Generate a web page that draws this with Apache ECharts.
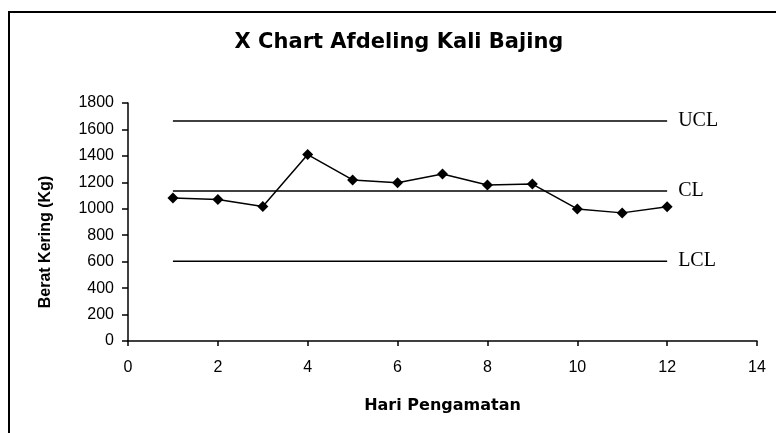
<!DOCTYPE html>
<html>
<head>
<meta charset="utf-8">
<script src="https://cdn.jsdelivr.net/npm/echarts@6/dist/echarts.min.js"></script>
<style>
  html, body { margin: 0; padding: 0; background: #fff; }
  #chart { width: 776px; height: 433px; }
</style>
</head>
<body>
<div id="chart"></div>
<script>
// Daily dry weight observations (Kg) for the X control chart
const days = [1, 2, 3, 4, 5, 6, 7, 8, 9, 10, 11, 12];
const weights = [1082, 1070, 1017, 1410, 1218, 1197, 1263, 1180, 1187, 999, 969, 1015];

// Control limits
const limitNames = ['UCL', 'CL', 'LCL'];
const limitValues = [1664, 1134, 604];

// Axis ranges and tick steps
const xMin = 0, xMax = 14, xStep = 2;
const yMin = 0, yMax = 1800, yStep = 200;

const sans = '"Liberation Sans", Arial, sans-serif';
const wide = '"DejaVu Sans", sans-serif';

const chart = echarts.init(document.getElementById('chart'), null, { renderer: 'canvas' });

const limitSeries = limitNames.map((name, i) => ({
  name: name,
  type: 'line',
  data: [[days[0], limitValues[i]], [days[days.length - 1], limitValues[i]]],
  symbol: 'none',
  silent: true,
  lineStyle: { color: '#000', width: 1.5 },
  endLabel: {
    show: true,
    formatter: name,
    color: '#000',
    fontFamily: '"Liberation Serif", serif',
    fontSize: 20,
    distance: 11
  },
  z: 2
}));

chart.setOption({
  animation: false,
  backgroundColor: '#fff',
  title: {
    text: 'X Chart Afdeling Kali Bajing',
    left: 394,
    top: 27,
    textAlign: 'center',
    textStyle: { fontFamily: wide, fontWeight: 'bold', fontSize: 21, color: '#000' }
  },
  graphic: [
    {
      type: 'polyline',
      shape: { points: [[9, 440], [9, 12], [780, 12]] },
      style: { stroke: '#000', lineWidth: 2, fill: null },
      silent: true
    },
    {
      // y-axis title
      type: 'text',
      x: 46,
      y: 242,
      rotation: Math.PI / 2,
      style: {
        text: 'Berat Kering (Kg)',
        fill: '#000',
        font: 'bold 16px ' + sans,
        align: 'center',
        verticalAlign: 'middle'
      },
      silent: true
    }
  ],
  grid: { left: 128, right: 19, top: 103, bottom: 92 },
  xAxis: {
    type: 'value',
    min: xMin, max: xMax, interval: xStep,
    name: 'Hari Pengamatan',
    nameLocation: 'middle',
    nameGap: 57,
    nameTextStyle: { fontFamily: wide, fontWeight: 'bold', fontSize: 16, color: '#000' },
    axisLine: { lineStyle: { color: '#000', width: 1.5 } },
    axisTick: { show: true, inside: false, length: 5, lineStyle: { color: '#000', width: 1.5 } },
    axisLabel: { fontFamily: sans, fontSize: 16, color: '#000', margin: 19 },
    splitLine: { show: false }
  },
  yAxis: {
    type: 'value',
    min: yMin, max: yMax, interval: yStep,
    axisLine: { show: true, lineStyle: { color: '#000', width: 1.5 } },
    axisTick: { show: true, inside: false, length: 6, lineStyle: { color: '#000', width: 1.5 } },
    axisLabel: { fontFamily: sans, fontSize: 16, color: '#000', margin: 14, formatter: v => String(v) },
    splitLine: { show: false }
  },
  series: [
    ...limitSeries,
    {
      name: 'Berat Kering',
      type: 'line',
      data: days.map((d, i) => [d, weights[i]]),
      symbol: 'diamond',
      symbolSize: 11,
      itemStyle: { color: '#000' },
      lineStyle: { color: '#000', width: 1.5 },
      z: 3
    }
  ]
});
</script>
</body>
</html>
